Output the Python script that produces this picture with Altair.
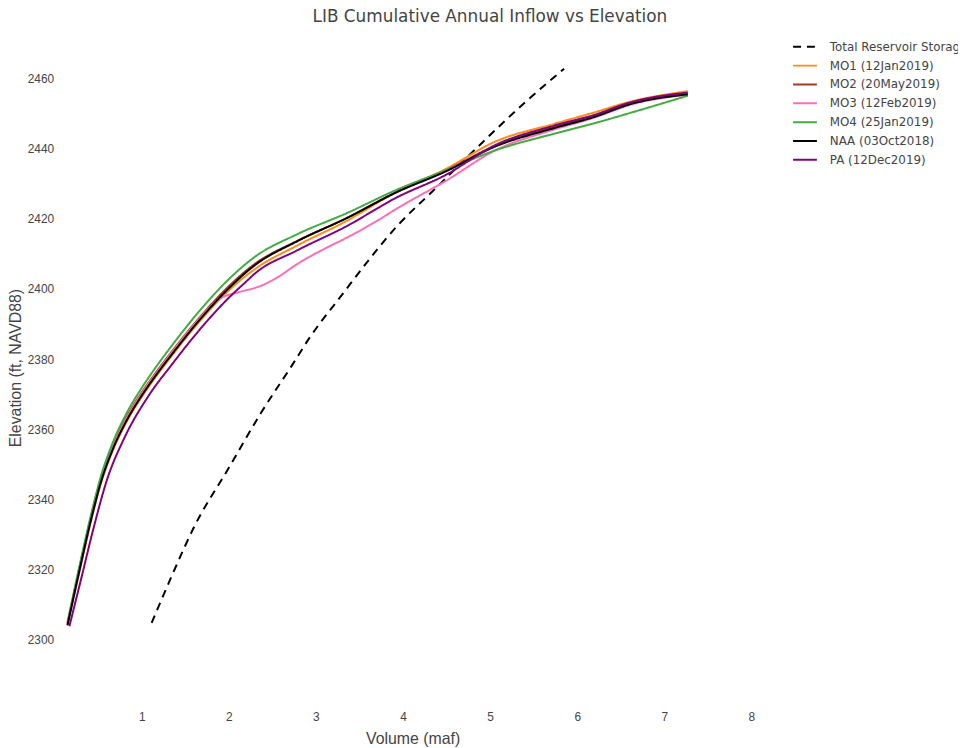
import altair as alt
import pandas as pd

series_names = [
    "Total Reservoir Storage",
    "MO1 (12Jan2019)",
    "MO2 (20May2019)",
    "MO3 (12Feb2019)",
    "MO4 (25Jan2019)",
    "NAA (03Oct2018)",
    "PA (12Dec2019)",
]
series_colors = ["#000000", "#ff8c1a", "#a23b24", "#ff6eb4", "#44aa44", "#000000", "#800080"]
series_dashes = [[8, 6], [1, 0], [1, 0], [1, 0], [1, 0], [1, 0], [1, 0]]

# Volume (maf) and elevation (ft)
total_x = [1.114, 1.35, 1.61, 1.99, 2.37, 2.727, 2.93, 3.276, 3.95, 4.375, 4.9, 5.4, 5.85]
total_y = [2304.8, 2318.5, 2332.6, 2348.6, 2364.7, 2378.3, 2386.2, 2397.6, 2418.4, 2428.7, 2441.5, 2453.2, 2462.8]

base_x = [0.148, 0.265, 0.436, 0.53, 0.663, 0.833, 1.0, 1.125, 1.35, 1.648, 2.0, 2.295,
          2.784, 3.352, 3.92, 4.489, 5.057, 5.739, 6.19, 6.61, 7.27]

mo1_y = [2304.0, 2317.1, 2335.6, 2344.4, 2353.6, 2362.4, 2369.2, 2373.7, 2381.1, 2390.3, 2399.6, 2405.6,
         2412.4, 2419.4, 2427.6, 2434.2, 2442.0, 2447.1, 2450.3, 2453.4, 2456.4]
mo2_y = [2304.6, 2318.2, 2336.9, 2345.8, 2355.0, 2363.8, 2370.5, 2374.9, 2382.3, 2391.4, 2400.8, 2407.1,
         2413.7, 2420.2, 2427.6, 2433.8, 2440.8, 2446.2, 2449.3, 2452.9, 2455.6]
mo3_x = [0.148, 0.265, 0.436, 0.53, 0.663, 0.833, 1.0, 1.125, 1.35, 1.648, 1.9, 2.1, 2.367, 2.557,
         2.784, 3.125, 3.352, 3.693, 3.92, 4.489, 5.057, 5.739, 6.19, 6.61, 7.27]
mo3_y = [2304.6, 2318.0, 2336.6, 2345.4, 2354.6, 2363.4, 2370.2, 2374.6, 2382.0, 2391.1, 2397.3, 2399.0,
         2400.9, 2403.3, 2407.1, 2411.8, 2414.6, 2419.3, 2422.8, 2430.8, 2439.5, 2445.5, 2448.8, 2452.5, 2455.4]
mo4_y = [2305.0, 2318.7, 2337.5, 2346.5, 2355.9, 2364.9, 2371.8, 2376.4, 2384.0, 2393.3, 2402.8, 2409.1,
         2415.6, 2421.6, 2428.2, 2433.8, 2439.5, 2444.3, 2447.2, 2450.2, 2455.1]
naa_y = [2304.2, 2317.5, 2336.0, 2344.8, 2354.0, 2362.8, 2369.6, 2374.1, 2381.5, 2390.7, 2400.2, 2406.7,
         2413.6, 2420.2, 2427.5, 2433.5, 2440.6, 2445.9, 2449.0, 2452.7, 2455.5]
pa_x = [0.17, 0.3, 0.45, 0.6, 0.8, 1.08, 1.35, 1.648, 2.0, 2.216, 2.29, 2.784, 3.352, 3.92, 4.489,
        5.057, 5.739, 6.19, 6.61, 7.27]
pa_y = [2303.9, 2316.9, 2332.1, 2345.5, 2357.5, 2369.6, 2378.6, 2387.9, 2397.5, 2402.5, 2404.2, 2411.0,
        2417.9, 2426.0, 2432.5, 2441.0, 2446.6, 2449.6, 2453.2, 2456.0]

series_data = [
    (total_x, total_y),
    (base_x, mo1_y),
    (base_x, mo2_y),
    (mo3_x, mo3_y),
    (base_x, mo4_y),
    (base_x, naa_y),
    (pa_x, pa_y),
]

rows = []
for k, (name, (xs, ys)) in enumerate(zip(series_names, series_data)):
    for xv, yv in zip(xs, ys):
        rows.append({"series": name, "k": k, "volume": xv, "elev": yv})
df = pd.DataFrame(rows)

x_ticks = [1, 2, 3, 4, 5, 6, 7, 8]
y_ticks = [2300, 2320, 2340, 2360, 2380, 2400, 2420, 2440, 2460]

legend = alt.Legend(
    title=None,
    orient="none",
    legendX=743.7,
    legendY=1,
    symbolType="stroke",
    symbolSize=576,
    symbolStrokeWidth=2,
    labelFont="DejaVu Sans",
    labelFontSize=12,
    labelColor="#444444",
    labelOffset=12,
    rowPadding=0,
    padding=0,
)

chart = (
    alt.Chart(df)
    .mark_line(strokeWidth=2, interpolate="monotone")
    .encode(
        x=alt.X(
            "volume:Q",
            scale=alt.Scale(domain=[0, 8.22], nice=False, zero=False),
            axis=alt.Axis(values=x_ticks, format="d", title="Volume (maf)", labelPadding=9, titlePadding=9),
        ),
        y=alt.Y(
            "elev:Q",
            scale=alt.Scale(domain=[2282.2, 2473.0], nice=False, zero=False),
            axis=alt.Axis(values=y_ticks, format="d", title="Elevation (ft, NAVD88)", labelPadding=1, titlePadding=4),
        ),
        color=alt.Color(
            "series:N",
            scale=alt.Scale(domain=series_names, range=series_colors),
            legend=legend,
        ),
        strokeDash=alt.StrokeDash(
            "series:N",
            scale=alt.Scale(domain=series_names, range=series_dashes),
            legend=legend,
        ),
    )
    .properties(
        width=722,
        height=675,
        autosize="none",
        padding={"left": 47, "top": 22, "right": 189, "bottom": 43},
        title=alt.TitleParams(
            "LIB Cumulative Annual Inflow vs Elevation",
            font="DejaVu Sans",
            fontSize=17,
            fontWeight="normal",
            color="#444444",
            anchor="middle",
            dx=78,
            offset=7,
        ),
    )
    .configure_axis(
        domain=False,
        ticks=False,
        grid=False,
        labelFont="Liberation Sans",
        labelFontSize=12,
        labelColor="#444444",
        titleFont="Liberation Sans",
        titleFontSize=16,
        titleFontWeight="normal",
        titleColor="#444444",
    )
    .configure_view(stroke=None)
)

chart.save("out.html", embed_options={"renderer": "svg", "actions": False})
